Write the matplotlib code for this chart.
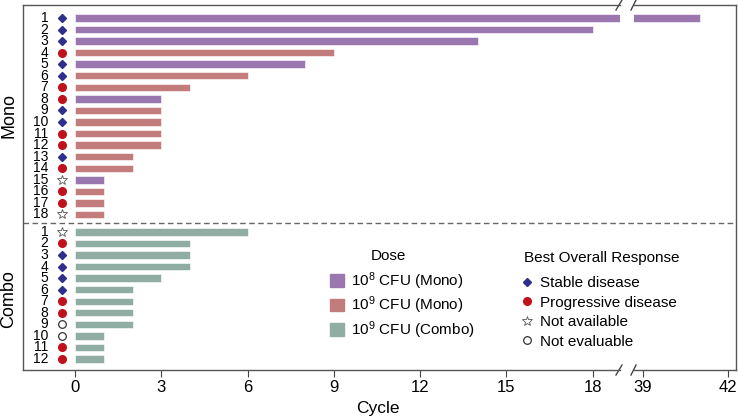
import matplotlib.pyplot as plt
from matplotlib.lines import Line2D
from matplotlib.patches import Patch

plt.rcParams['font.family'] = ['Liberation Sans', 'DejaVu Sans']
plt.rcParams['mathtext.default'] = 'regular'

# data
mono_cycles = [41, 18, 14, 9, 8, 6, 4, 3, 3, 3, 3, 3, 2, 2, 1, 1, 1, 1]
mono_dose = ['1e8', '1e8', '1e8', '1e9', '1e8', '1e9', '1e9', '1e8', '1e9',
             '1e9', '1e9', '1e9', '1e9', '1e9', '1e8', '1e9', '1e9', '1e9']
mono_resp = ['SD', 'SD', 'SD', 'PD', 'SD', 'SD', 'PD', 'PD', 'SD',
             'SD', 'PD', 'PD', 'SD', 'PD', 'NA', 'PD', 'PD', 'NA']
combo_cycles = [6, 4, 4, 4, 3, 2, 2, 2, 2, 1, 1, 1]
combo_resp = ['NA', 'PD', 'SD', 'SD', 'SD', 'SD', 'PD', 'PD', 'NE', 'NE', 'PD', 'PD']

dose_colors = {'1e8': '#9b77b0', '1e9': '#c27c7c', 'combo': '#8fada3'}
resp_style = {
    'SD': dict(marker='D', color='#2e2f8c', mfc='#2e2f8c', ms=4.5),
    'PD': dict(marker='o', color='#c0121c', mfc='#c0121c', ms=5.5),
    'NA': dict(marker='*', color='#555555', mfc='white', ms=7, mew=0.6),
    'NE': dict(marker='o', color='#333333', mfc='white', ms=5.5, mew=0.9),
}

# row positions: mono 0..17, combo after a gap
mono_y = list(range(len(mono_cycles)))
combo_y = [18.5 + i for i in range(len(combo_cycles))]
ys = mono_y + combo_y
cycles = mono_cycles + combo_cycles
colors = [dose_colors[d] for d in mono_dose] + [dose_colors['combo']] * len(combo_cycles)
resps = mono_resp + combo_resp
labels = [str(i + 1) for i in range(len(mono_cycles))] + [str(i + 1) for i in range(len(combo_cycles))]

fig = plt.figure(figsize=(7.38, 4.2), dpi=100)
H = 420.0
W = 738.0
bottom, top = 370, 5
axl = fig.add_axes([23 / W, (H - bottom) / H, (620 - 23) / W, (bottom - top) / H])
axr = fig.add_axes([634 / W, (H - bottom) / H, (736 - 634) / W, (bottom - top) / H])
axr.patch.set_visible(False)

for ax in (axl, axr):
    ax.barh(ys, cycles, height=0.64, color=colors, edgecolor='white', linewidth=0.4)
    ax.set_ylim(30.45, -1.12)
    ax.set_yticks([])
    for s in ax.spines.values():
        s.set_color('#555555')
        s.set_linewidth(1.0)
    ax.tick_params(axis='x', direction='out', length=5, color='#444444',
                   labelsize=12, pad=2.5)

axl.set_xlim(-1.81, 18.95)
axl.set_xticks([0, 3, 6, 9, 12, 15, 18])
axl.spines['right'].set_visible(False)
axr.set_xlim(38.68, 42.28)
axr.set_xticks([39, 42])
axr.spines['left'].set_visible(False)

# dashed separator running across the break
axl.plot([0, (736 - 23) / (620 - 23)], [17.75, 17.75], transform=axl.get_yaxis_transform(),
         color='#666666', ls=(0, (4, 2.5)), lw=1.0, clip_on=False)

# row numbers and response markers
for y, lab, r in zip(ys, labels, resps):
    axl.text(-0.93, y, lab, ha='right', va='center', fontsize=10)
    axl.plot(-0.45, y, linestyle='none', clip_on=False, **resp_style[r])

# group labels
fig.text(9 / W, 1 - 116 / H, 'Mono', rotation=90, ha='center', va='center', fontsize=13)
fig.text(9 / W, 1 - 299 / H, 'Combo', rotation=90, ha='center', va='center', fontsize=13)

fig.text(378 / W, 1 - 409 / H, 'Cycle', ha='center', va='center', fontsize=12.5)

# break marks
d = dict(color='#444444', lw=1.0, clip_on=False)
wl = 620 - 23
wr = 736 - 634
hh = bottom - top
for yy in (0, 1):
    axl.plot([1 - 4 / wl, 1 + 2 / wl], [yy - 5 / hh, yy + 5 / hh], transform=axl.transAxes, **d)
    axr.plot([-3 / wr, 2 / wr], [yy - 5 / hh, yy + 5 / hh], transform=axr.transAxes, **d)

# legends
fig.text(388 / W, 1 - 256 / H, 'Dose', ha='center', va='center', fontsize=11)
dose_handles = [Patch(color=dose_colors['1e8']), Patch(color=dose_colors['1e9']),
                Patch(color=dose_colors['combo'])]
dose_labels = ['10$^{8}$ CFU (Mono)', '10$^{9}$ CFU (Mono)', '10$^{9}$ CFU (Combo)']
fig.legend(dose_handles, dose_labels, frameon=False,
           loc='upper left', bbox_to_anchor=(330 / W, 1 - 270 / H),
           borderpad=0, borderaxespad=0,
           fontsize=11, handlelength=0.9, handleheight=0.9,
           handletextpad=0.5, labelspacing=0.2)

fig.text(524 / W, 1 - 258 / H, 'Best Overall Response', ha='left', va='center', fontsize=11)
resp_handles = [Line2D([], [], linestyle='none', **resp_style[k]) for k in ['SD', 'PD', 'NA', 'NE']]
resp_labels = ['Stable disease', 'Progressive disease', 'Not available', 'Not evaluable']
fig.legend(resp_handles, resp_labels, frameon=False,
           loc='upper left', bbox_to_anchor=(521 / W, 1 - 276 / H),
           borderpad=0, borderaxespad=0,
           fontsize=11, handlelength=0.8,
           handletextpad=0.45, labelspacing=0.36)

fig.savefig('out.png', dpi=100)
